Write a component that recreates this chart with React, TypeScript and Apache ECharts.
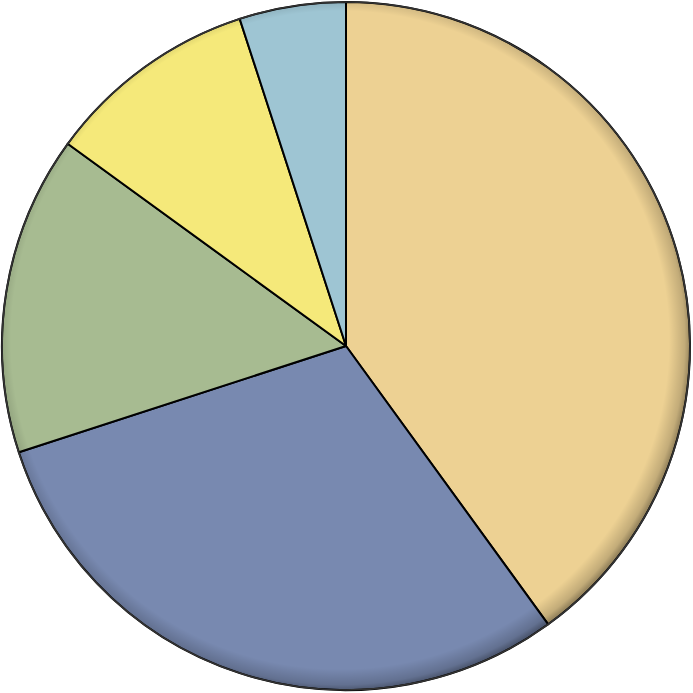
import React, { useEffect, useRef } from 'react';
import * as echarts from 'echarts';

// slices, clockwise from 12 o'clock
const categories = ['A', 'B', 'C', 'D', 'E'];
const values = [40, 30, 15, 10, 5];
const colors = ['#EDD193', '#7889B0', '#A7BB91', '#F5E97A', '#9EC5D3'];

const App: React.FC = () => {
  const chartRef = useRef<HTMLDivElement>(null);

  useEffect(() => {
    const chart = echarts.init(chartRef.current!, null, { renderer: 'svg' });

    const cx = 346;
    const cy = 346;
    const r = 344;

    const options = {
      animation: false,
      series: [
        {
          // main pie
          type: 'pie',
          center: [cx, cy],
          radius: [0, r],
          startAngle: 90,
          clockwise: true,
          silent: true,
          label: { show: false },
          labelLine: { show: false },
          itemStyle: {
            borderColor: '#000',
            borderWidth: 2,
          },
          data: categories.map((name, i) => ({
            name,
            value: values[i],
            itemStyle: { color: colors[i] },
          })),
        },
        {
          // bevel shading along the rim
          type: 'pie',
          center: [cx, cy],
          radius: [0, r],
          silent: true,
          label: { show: false },
          labelLine: { show: false },
          itemStyle: {
            color: new echarts.graphic.RadialGradient(
              cx - 6,
              cy - 6,
              r + 6,
              [
                { offset: 0, color: 'rgba(0,0,0,0)' },
                { offset: 0.94, color: 'rgba(0,0,0,0)' },
                { offset: 0.985, color: 'rgba(0,0,0,0.18)' },
                { offset: 1, color: 'rgba(0,0,0,0.35)' },
              ],
              true
            ),
            borderColor: '#333',
            borderWidth: 1.6,
          },
          data: [{ name: 'rim', value: 1 }],
        },
      ],
    };

    chart.setOption(options);

    return () => {
      chart.dispose();
    };
  }, []);

  return (
    <div
      ref={chartRef}
      style={{
        position: 'fixed',
        left: 0,
        top: 0,
        width: '693px',
        height: '693px',
        background: '#fff',
      }}
    />
  );
};

export default App;
